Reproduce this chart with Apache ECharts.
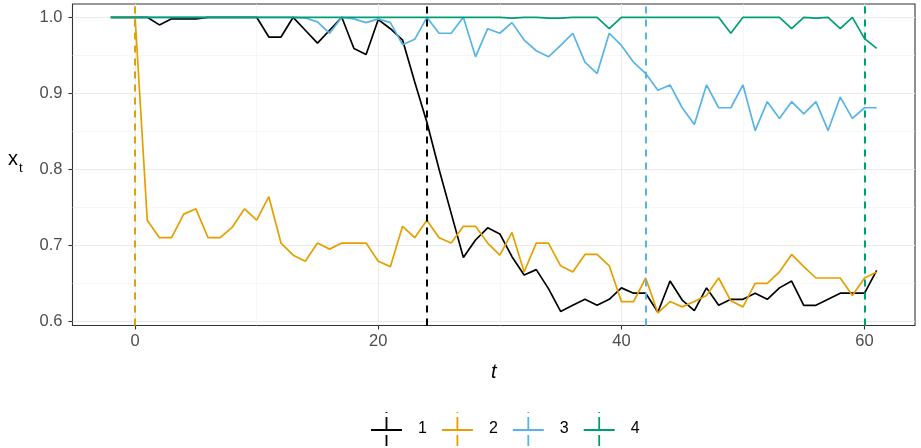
<!DOCTYPE html>
<html>
<head>
<meta charset="utf-8">
<script src="https://cdn.jsdelivr.net/npm/echarts@6/dist/echarts.min.js"></script>
<style>
  html, body { margin: 0; padding: 0; background: #ffffff; }
  #chart { width: 921px; height: 448px; }
</style>
</head>
<body>
<div id="chart"></div>
<script>
// Time index
var t = [];
for (var i = -2; i <= 61; i++) t.push(i);

// Proportions x_t for each of the four series, t = -2 .. 61
var series1 = [1.000, 1.000, 1.000, 1.000, 0.990, 0.998, 0.998, 0.998, 1.000, 1.000,
               1.000, 1.000, 1.000, 0.974, 0.974, 1.000, 0.983, 0.966, 0.983, 1.000,
               0.959, 0.951, 0.997, 0.985, 0.970, 0.915, 0.862, 0.800, 0.742, 0.684,
               0.707, 0.723, 0.715, 0.685, 0.661, 0.668, 0.643, 0.613, 0.621, 0.629,
               0.621, 0.629, 0.644, 0.637, 0.637, 0.612, 0.653, 0.628, 0.614, 0.644,
               0.621, 0.629, 0.629, 0.637, 0.629, 0.644, 0.653, 0.621, 0.621, 0.629,
               0.637, 0.637, 0.637, 0.667];
var series2 = [1.000, 1.000, 1.000, 0.733, 0.710, 0.710, 0.741, 0.748, 0.710, 0.710,
               0.724, 0.748, 0.733, 0.764, 0.703, 0.687, 0.679, 0.703, 0.695, 0.703,
               0.703, 0.703, 0.679, 0.672, 0.725, 0.710, 0.733, 0.710, 0.703, 0.725,
               0.725, 0.703, 0.687, 0.717, 0.665, 0.703, 0.703, 0.673, 0.665, 0.688,
               0.688, 0.673, 0.626, 0.626, 0.657, 0.611, 0.626, 0.619, 0.626, 0.634,
               0.657, 0.627, 0.619, 0.650, 0.650, 0.665, 0.688, 0.672, 0.657, 0.657,
               0.657, 0.634, 0.657, 0.665];
var series3 = [1.000, 1.000, 1.000, 1.000, 1.000, 1.000, 1.000, 1.000, 1.000, 1.000,
               1.000, 1.000, 1.000, 1.000, 1.000, 1.000, 0.999, 0.994, 0.979, 1.000,
               0.998, 0.993, 0.998, 0.993, 0.964, 0.971, 1.000, 0.979, 0.979, 1.000,
               0.948, 0.985, 0.979, 0.993, 0.970, 0.956, 0.948, 0.963, 0.979, 0.941,
               0.926, 0.979, 0.963, 0.941, 0.926, 0.904, 0.911, 0.881, 0.859, 0.911,
               0.881, 0.881, 0.911, 0.851, 0.889, 0.867, 0.889, 0.873, 0.889, 0.851,
               0.895, 0.867, 0.881, 0.881];
var series4 = [1.000, 1.000, 1.000, 1.000, 1.000, 1.000, 1.000, 1.000, 1.000, 1.000,
               1.000, 1.000, 1.000, 1.000, 1.000, 1.000, 1.000, 1.000, 1.000, 1.000,
               1.000, 1.000, 1.000, 1.000, 1.000, 1.000, 1.000, 1.000, 1.000, 1.000,
               1.000, 1.000, 1.000, 0.999, 1.000, 1.000, 0.999, 0.999, 1.000, 1.000,
               1.000, 0.985, 1.000, 1.000, 1.000, 1.000, 1.000, 1.000, 1.000, 1.000,
               1.000, 0.979, 1.000, 1.000, 1.000, 1.000, 0.985, 1.000, 0.999, 1.000,
               0.985, 1.000, 0.972, 0.959];

// Change points (dashed vertical lines), one per series
var changePoints = [24, 0, 42, 60];

var seriesNames = ['1', '2', '3', '4'];
var seriesColors = ['#000000', '#E69F00', '#56B4E9', '#009E73'];
var seriesValues = [series1, series2, series3, series4];

var xTicks = [0, 20, 40, 60];
var yTicks = [0.6, 0.7, 0.8, 0.9, 1.0];

// Legend key: solid horizontal line crossed by a dashed vertical line
var legendKey = 'path://M14.6,0h1.8v1h-1.8z M14.6,5h1.8v13h-1.8z M0,17.1h31v1.8h-31z M14.6,23h1.8v11h-1.8z';

var FONT = 'Liberation Sans, Arial, sans-serif';

var chart = echarts.init(document.getElementById('chart'), null, { renderer: 'canvas' });

var series = seriesValues.map(function (vals, k) {
  return {
    name: seriesNames[k],
    type: 'line',
    data: t.map(function (tt, j) { return [tt, vals[j]]; }),
    showSymbol: false,
    symbol: 'none',
    lineStyle: { color: seriesColors[k], width: 1.7 },
    itemStyle: { color: seriesColors[k] },
    z: 2 + k,
    markLine: {
      silent: true,
      symbol: 'none',
      label: { show: false },
      lineStyle: { color: seriesColors[k], type: [7, 6], width: 2 },
      emphasis: { disabled: true },
      data: [{ xAxis: changePoints[k] }]
    }
  };
});

chart.setOption({
  animation: false,
  backgroundColor: '#ffffff',
  textStyle: { fontFamily: FONT },
  grid: {
    left: 72.5, right: 6, top: 4, bottom: 122.5,
    show: true, borderColor: '#333333', borderWidth: 1.1, backgroundColor: 'transparent'
  },
  xAxis: {
    type: 'value',
    min: -5.15, max: 64.15,
    splitNumber: 3,
    name: 't',
    nameLocation: 'middle',
    nameGap: 37,
    nameTextStyle: { fontFamily: FONT, fontStyle: 'italic', fontSize: 20, color: '#000000' },
    axisLine: { show: false, onZero: false },
    axisTick: { show: true, length: 4, lineStyle: { color: '#333333', width: 1.1 }, customValues: xTicks },
    axisLabel: { customValues: xTicks, margin: 7, fontSize: 16.5, color: '#4D4D4D', fontFamily: FONT },
    splitLine: { show: true, lineStyle: { color: '#EBEBEB', width: 1.1 } },
    minorTick: { show: false, splitNumber: 2 },
    minorSplitLine: { show: true, lineStyle: { color: '#F2F2F2', width: 0.6 } }
  },
  yAxis: {
    type: 'value',
    min: 0.5945, max: 1.0175,
    splitNumber: 5,
    axisLine: { show: false, onZero: false },
    axisTick: { show: true, length: 4, lineStyle: { color: '#333333', width: 1.1 }, customValues: yTicks },
    axisLabel: {
      customValues: yTicks, margin: 10, fontSize: 16.5, color: '#4D4D4D', fontFamily: FONT,
      formatter: function (v) { return v.toFixed(1); }
    },
    splitLine: { show: true, lineStyle: { color: '#EBEBEB', width: 1.1 } },
    minorTick: { show: false, splitNumber: 2 },
    minorSplitLine: { show: true, lineStyle: { color: '#F2F2F2', width: 0.6 } }
  },
  legend: {
    data: seriesNames,
    left: 366,
    top: 407,
    icon: legendKey,
    itemWidth: 31,
    itemHeight: 34,
    itemGap: 15,
    selectedMode: false,
    textStyle: { fontSize: 16, color: '#000000', fontFamily: FONT, padding: [0, 0, 0, 11] }
  },
  graphic: [
    { type: 'text', left: 8, top: 149, style: { text: 'x', fontSize: 20, fontFamily: FONT, fill: '#000000' } },
    { type: 'text', left: 19, top: 162, style: { text: 't', fontSize: 13, fontFamily: FONT, fill: '#000000' } }
  ],
  series: series
});
</script>
</body>
</html>
